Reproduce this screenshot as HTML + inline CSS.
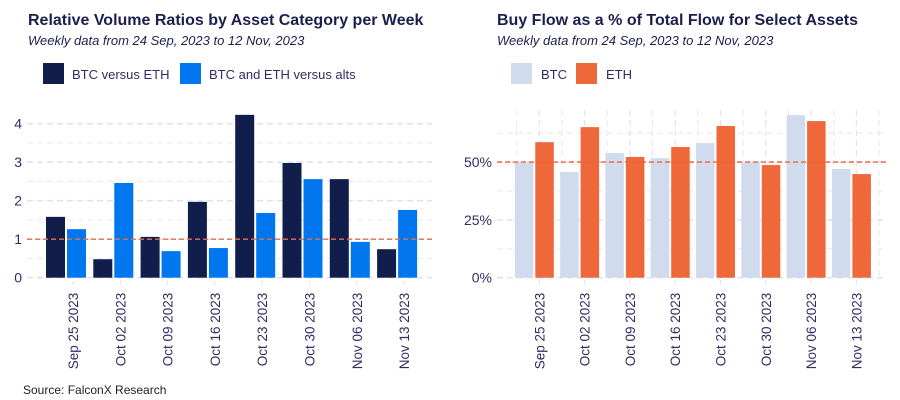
<!DOCTYPE html>
<html><head><meta charset="utf-8"><style>
body{margin:0;background:#fff;}
svg{display:block;font-family:"Liberation Sans",sans-serif;}
</style></head><body>
<svg id="chart" width="900" height="400" viewBox="0 0 900 400">
<text x="28" y="25" font-size="16" font-weight="bold" fill="#1c1f4e">Relative Volume Ratios by Asset Category per Week</text>
<text x="28" y="45" font-size="13" font-style="italic" fill="#1c1f4e">Weekly data from 24 Sep, 2023 to 12 Nov, 2023</text>
<rect x="43" y="63" width="21" height="21" fill="#111d4a"/>
<text x="72" y="79" font-size="13" fill="#2d2f63">BTC versus ETH</text>
<rect x="180" y="63" width="21" height="21" fill="#0077ee"/>
<text x="209" y="79" font-size="13" fill="#2d2f63">BTC and ETH versus alts</text>
<text x="497" y="25" font-size="16" font-weight="bold" fill="#1c1f4e">Buy Flow as a % of Total Flow for Select Assets</text>
<text x="497" y="45" font-size="13" font-style="italic" fill="#1c1f4e">Weekly data from 24 Sep, 2023 to 12 Nov, 2023</text>
<rect x="511" y="63" width="21" height="21" fill="#d0dbee"/>
<text x="541" y="79" font-size="13" fill="#2d2f63">BTC</text>
<rect x="576" y="63" width="21" height="21" fill="#ee683a"/>
<text x="606" y="79" font-size="13" fill="#2d2f63">ETH</text>
<text x="23" y="394" font-size="12" fill="#222">Source: FalconX Research</text>
<g id="left"></g><g id="right"></g>
</svg>
<script>
const categories = ["Sep 25 2023","Oct 02 2023","Oct 09 2023","Oct 16 2023","Oct 23 2023","Oct 30 2023","Nov 06 2023","Nov 13 2023"];
const btcVsEth = [1.58,0.48,1.06,1.97,4.23,2.98,2.56,0.74];
const btcEthVsAlts = [1.26,2.46,0.69,0.77,1.68,2.56,0.93,1.76];
const leftTicks = [0,1,2,3,4];
const btcBuy = [49.7,45.7,53.9,51.7,58.2,49.7,70.3,47.0];
const ethBuy = [58.6,65.1,52.2,56.5,65.6,48.7,67.7,44.8];
const rightTicks = [0,25,50];
const NS="http://www.w3.org/2000/svg";
function mk(parent,tag,attrs){const e=document.createElementNS(NS,tag);for(const k in attrs)e.setAttribute(k,attrs[k]);parent.appendChild(e);return e;}
function drawChart(g,cfg){
  const y=v=>cfg.y0-(v-cfg.ymin)*cfg.pxPer;
  const x=i=>cfg.t0+i*cfg.step;
  for(let i=0;i<cfg.ticks.length;i++){
    const mv=cfg.ticks[i]+cfg.minor;
    if(y(mv)>cfg.top){const l=mk(g,'line',{x1:cfg.gx0,x2:cfg.gx1,y1:y(mv),y2:y(mv),stroke:'#e8ecf6','stroke-width':1.2,'stroke-dasharray':'6 4'});
    
    }
  }
  if(cfg.vgrid){
    for(let i=0;i<=categories.length;i++){
      const xm=x(i)-cfg.step/2;
      const l=mk(g,'line',{x1:xm,x2:xm,y1:cfg.top,y2:cfg.y0+3,stroke:'#e4e8f2','stroke-width':1,'stroke-dasharray':'6 4'});
      
      
    }
    for(let i=0;i<categories.length;i++){
      const l=mk(g,'line',{x1:x(i),x2:x(i),y1:cfg.top,y2:cfg.y0+3,stroke:'#dde3f0','stroke-width':1.2,'stroke-dasharray':'6 4'});
      
      
    }
  }
  cfg.ticks.forEach(t=>{
    const l=mk(g,'line',{x1:cfg.gx0,x2:cfg.gx1,y1:y(t),y2:y(t),stroke:'#dde3f0','stroke-width':1.6,'stroke-dasharray':'6 4'});
    
    
    const tx=mk(g,'text',{x:cfg.gx0-5,y:y(t)+5,'font-size':14,fill:'#2d2f63','text-anchor':'end'});
    tx.textContent=cfg.fmt(t);
    
    
  });
  categories.forEach((c,i)=>{
    const cx=x(i)+cfg.off;
    const r1=mk(g,'rect',{x:cx-cfg.bw-1,y:y(cfg.s1[i]),width:cfg.bw,height:y(cfg.ymin)-y(cfg.s1[i]),fill:cfg.c1});
    
    
    const r2=mk(g,'rect',{x:cx+1,y:y(cfg.s2[i]),width:cfg.bw,height:y(cfg.ymin)-y(cfg.s2[i]),fill:cfg.c2});
    
    
    const tk=mk(g,'line',{x1:x(i),x2:x(i),y1:cfg.y0+3,y2:cfg.y0+7,stroke:'#dde3f0','stroke-width':1});
    
    
    const tx=mk(g,'text',{x:0,y:0,'font-size':13.5,fill:'#2d2f63','text-anchor':'end',transform:`translate(${x(i)+5},${cfg.y0+15}) rotate(-90)`});
    tx.textContent=c;
    
    
  });
  const rl=mk(g,'line',{x1:cfg.gx0,x2:cfg.gx1,y1:y(cfg.ref),y2:y(cfg.ref),stroke:cfg.refc,'stroke-width':1.3,'stroke-dasharray':'5 3'});
  
  
}
drawChart(document.getElementById('left'),{y0:277.7,ymin:0,pxPer:38.5,t0:73,step:47.3,off:-7,bw:19,gx0:27,gx1:432,top:110,
  ticks:leftTicks,minor:0.5,fmt:t=>String(t),s1:btcVsEth,s2:btcEthVsAlts,c1:'#111d4a',c2:'#0077ee',ref:1,refc:'#e0704a',vgrid:false});
drawChart(document.getElementById('right'),{y0:277.7,ymin:0,pxPer:2.313,t0:539.3,step:45.3,off:-5,bw:18.5,gx0:497,gx1:887,top:110,
  ticks:rightTicks,minor:12.5,fmt:t=>t+'%',s1:btcBuy,s2:ethBuy,c1:'#d0dbee',c2:'#ee683a',ref:50,refc:'#f0603a',vgrid:true});
</script>
</body></html>
